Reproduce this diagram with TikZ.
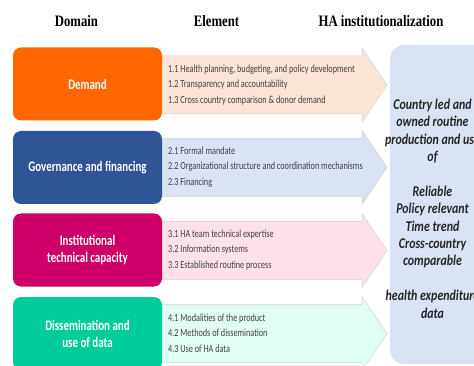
\documentclass[tikz,border=0pt]{standalone}
\usepackage{fontspec}
\setmainfont{Carlito}[FakeStretch=0.8]
\newfontfamily\boxfont{Carlito}[FakeStretch=0.75]
\newfontfamily\listfont{Carlito}[FakeStretch=0.76]
\newfontfamily\titlefont{Liberation Serif}[FakeStretch=0.8]
\definecolor{cDemand}{HTML}{FF6600}
\definecolor{cGov}{HTML}{2F5597}
\definecolor{cInst}{HTML}{CC0066}
\definecolor{cDiss}{HTML}{00CC99}
\definecolor{aDemand}{HTML}{FBE5D6}
\definecolor{aGov}{HTML}{DAE3F3}
\definecolor{aInst}{HTML}{FFE1EC}
\definecolor{aDiss}{HTML}{DFFFF5}
\definecolor{panelcol}{HTML}{DAE3F3}
\definecolor{listtext}{HTML}{404040}
\definecolor{paneltext}{HTML}{262626}
\begin{document}
\begin{tikzpicture}[x=1pt,y=-1pt,
  titlesty/.style={font=\titlefont\bfseries\fontsize{15.9}{18}\selectfont, inner sep=0pt},
  dombox/.style={rounded corners=8pt, minimum width=149pt, minimum height=73pt,
     text=white, align=center, inner sep=0pt, font=\boxfont\bfseries\fontsize{14.6}{17}\selectfont},
  arrowsty/.style={draw=gray!35, line width=0.5pt},
  liststy/.style={anchor=west, align=left, inner sep=0pt, text=listtext,
     font=\listfont\fontsize{10.8}{15.5}\selectfont},
  panelsty/.style={fill=panelcol, rounded corners=14pt},
  paneltxt/.style={align=center, inner sep=0pt, text=paneltext,
     font=\bfseries\itshape\fontsize{14.9}{17.4}\selectfont}
]
\useasboundingbox (0,0) rectangle (474,366);
\clip (0,0) rectangle (474,366);
\fill[white] (0,0) rectangle (474,366);

% titles
\node[titlesty] (tdomain) at (76.5,21) {Domain};
\node[titlesty] (telement) at (216.5,21) {Element};
\node[titlesty] (tha) at (381,21) {HA institutionalization};

% arrows
\foreach \c/\col in {85/aDemand,167.5/aGov,250.5/aInst,333.5/aDiss}{
  \filldraw[arrowsty, fill=\col] (150,\c-29) -- (362,\c-29) -- (362,\c-37) -- (387,\c)
     -- (362,\c+37) -- (362,\c+29) -- (150,\c+29) -- cycle;
}

% domain boxes
\node[dombox, fill=cDemand] (demand) at (87.5,84) {Demand};
\node[dombox, fill=cGov] (gov) at (87.5,167.5) {Governance and financing};
\node[dombox, fill=cInst] (inst) at (87.5,250) {Institutional\\technical capacity};
\node[dombox, fill=cDiss] (diss) at (87.5,333.5) {Dissemination and\\use of data};

% element lists
\node[liststy] (l1) at (168,85) {1.1 Health planning, budgeting, and policy development\\1.2 Transparency and accountability\\1.3 Cross country comparison \& donor demand};
\node[liststy] (l2) at (168,167) {2.1 Formal mandate\\2.2 Organizational structure and coordination mechanisms\\2.3 Financing};
\node[liststy] (l3) at (168,250) {3.1 HA team technical expertise\\3.2 Information systems\\3.3 Established routine process};
\node[liststy] (l4) at (168,333) {4.1 Modalities of the product\\4.2 Methods of dissemination\\4.3 Use of HA data};

% right panel
\fill[panelsty] (390,45) rectangle (500,364);
\node[paneltxt] (result) at (432.5,208.5) {Country led and\\owned routine\\production and use\\of\\[17.4pt]Reliable\\Policy relevant\\Time trend\\Cross-country\\comparable\\[17.4pt]health expenditure\\data};
\end{tikzpicture}
\end{document}
